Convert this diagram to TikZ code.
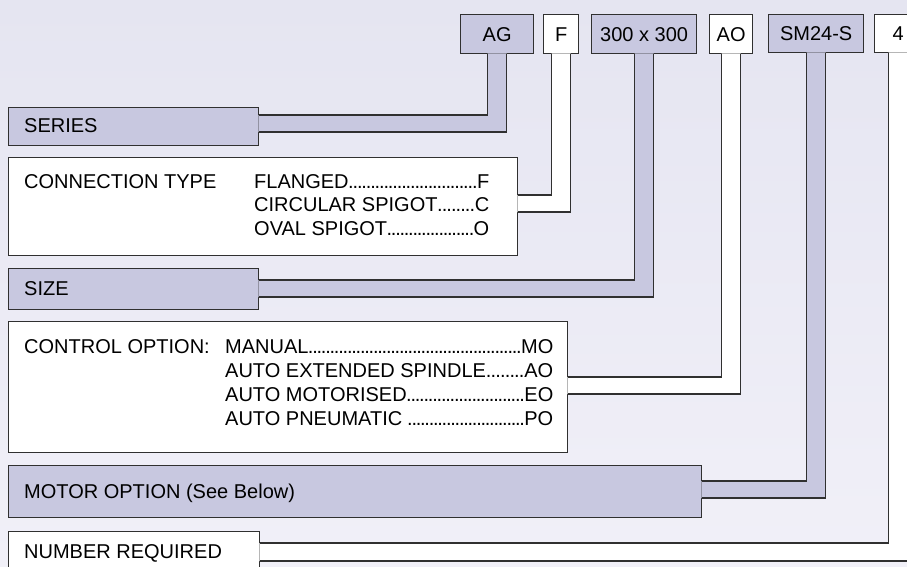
\documentclass[tikz,border=0pt]{standalone}
\usepackage{fontspec}
\setmainfont{Liberation Sans}
\definecolor{tabblue}{RGB}{200,200,224}
\definecolor{bgtop}{RGB}{229,229,241}
\definecolor{bgbottom}{RGB}{241,240,248}
\definecolor{edgegrey}{RGB}{48,48,48}
\newcommand\dotrow{\xleaders\hbox to 4.3pt{\hss.\hss}\hfill}
\newcommand\optrow[3]{\hbox to #1{#2\dotrow#3}}

\begin{document}
\begin{tikzpicture}[x=1pt,y=-1pt,
    every node/.style={font=\fontsize{20}{24}\selectfont},
    box/.style={draw=edgegrey,line width=1.3pt,anchor=north west,inner sep=0pt},
    edge/.style={draw=edgegrey,line width=1.3pt},
    txt/.style={anchor=base west,inner sep=0pt}]
  \useasboundingbox (0,0) rectangle (907,566);
  \clip (0,0) rectangle (907,566);
  \shade[top color=bgtop,bottom color=bgbottom] (0,0) rectangle (907,566);

  % code boxes along the top
  \node[box,fill=tabblue,minimum width=73pt,minimum height=39pt] (ag) at (460,14) {AG};
  \node[box,fill=white,minimum width=35pt,minimum height=39pt] (f) at (543,14) {F};
  \node[box,fill=tabblue,minimum width=105pt,minimum height=39pt] (sz) at (591,14) {300 x 300};
  \node[box,fill=white,minimum width=43pt,minimum height=39pt] (ao) at (709,14) {AO};
  \node[box,fill=tabblue,minimum width=95pt,minimum height=38pt] (sm) at (768,14) {SM24-S};
  \node[box,fill=white,minimum width=47pt,minimum height=38pt] (qty) at (874,14) {4};

  % label boxes down the left
  \node[box,fill=tabblue,minimum width=250pt,minimum height=38pt] (series) at (8,107) {};
  \node[box,fill=white,minimum width=509pt,minimum height=98pt] (conn) at (8,157) {};
  \node[box,fill=tabblue,minimum width=250pt,minimum height=41pt] (size) at (8,268) {};
  \node[box,fill=white,minimum width=559pt,minimum height=131pt] (ctrl) at (8,321) {};
  \node[box,fill=tabblue,minimum width=693pt,minimum height=52pt] (motor) at (8,465) {};
  \node[box,fill=white,minimum width=251pt,minimum height=40pt] (number) at (8,531) {};

  % texts
  \node[txt] (seriestext) at (24,132) {SERIES};
  \node[txt] (conntext) at (24,188) {CONNECTION TYPE};
  \foreach \opt/\abbr [count=\i from 0] in {FLANGED/F, CIRCULAR SPIGOT/C, OVAL SPIGOT/O}
    \node[txt] (connopt\i) at (254,{188+23.5*\i}) {\optrow{235pt}{\opt}{\abbr}};
  \node[txt] (sizetext) at (24,295) {SIZE};
  \node[txt] (ctrltext) at (24,353) {CONTROL OPTION:};
  \foreach \opt/\abbr [count=\i from 0] in {MANUAL/MO, AUTO EXTENDED SPINDLE/AO, AUTO MOTORISED/EO, AUTO PNEUMATIC\ /PO}
    \node[txt] (ctrlopt\i) at (225,{353+24*\i}) {\optrow{328pt}{\opt}{\abbr}};
  \node[txt] (motortext) at (24,498) {MOTOR OPTION (See Below)};
  \node[txt] (numbertext) at (24,558) {NUMBER REQUIRED};

  % bands from label box to code box
  \foreach \lab/\cod/\ya/\yb/\col in {series/ag/115/132/tabblue, conn/f/195/212/white,
      size/sz/280/297/tabblue, ctrl/ao/377/394/white, motor/sm/481/498/tabblue,
      number/qty/543/561/white}{
    \fill[\col] ([xshift=-1pt]\lab.east |- 0,\ya) -| ([xshift=-9.5pt,yshift=1pt]\cod.south)
      -- ([xshift=9.5pt,yshift=1pt]\cod.south) |- ([xshift=-1pt]\lab.east |- 0,\yb) -- cycle;
    \draw[edge] (\lab.east |- 0,\ya) -| ([xshift=-9.5pt]\cod.south);
    \draw[edge] (\lab.east |- 0,\yb) -| ([xshift=9.5pt]\cod.south);
  }
\end{tikzpicture}
\end{document}
